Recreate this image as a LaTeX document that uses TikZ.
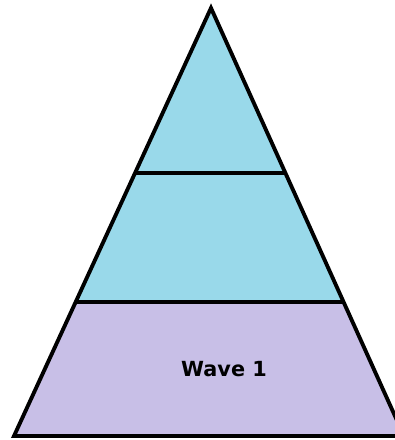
\documentclass[tikz,border=0pt]{standalone}
\usepackage{fontspec}
\newfontfamily\wavefont{DejaVu Sans}
\usetikzlibrary{calc}
\definecolor{tierblue}{RGB}{153,217,234}
\definecolor{tierlilac}{RGB}{200,191,231}

\begin{document}
\begin{tikzpicture}[
		x=0.75pt,
		y=-0.75pt,
		edge/.style={draw=black, line width=2.9pt, line join=miter},
		wavetxt/.style={font=\wavefont\bfseries\fontsize{15.6}{18}\selectfont, text=black, inner sep=0pt}
	]
	
	% Canvas
	\useasboundingbox (0,0) rectangle (394,440);
	
	% Corners
	\coordinate (apex) at (211,8);
	\coordinate (bl) at (14,436);
	\coordinate (br) at (404,436);
	\coordinate (l1) at ($(apex)!0.3855!(bl)$);
	\coordinate (r1) at ($(apex)!0.3855!(br)$);
	\coordinate (l2) at ($(apex)!0.687!(bl)$);
	\coordinate (r2) at ($(apex)!0.687!(br)$);
	
	% Tiers
	\fill[tierblue] (apex) -- (l2) -- (r2) -- cycle;
	\fill[tierlilac] (l2) -- (bl) -- (br) -- (r2) -- cycle;
	
	% Outline
	\draw[edge] (apex) -- (bl) -- (br) -- cycle;
	\draw[edge] (l1) -- (r1);
	\draw[edge] (l2) -- (r2);
	
	% Label
	\node[wavetxt] (wave) at (224,369) {Wave 1};
	
\end{tikzpicture}
\end{document}
